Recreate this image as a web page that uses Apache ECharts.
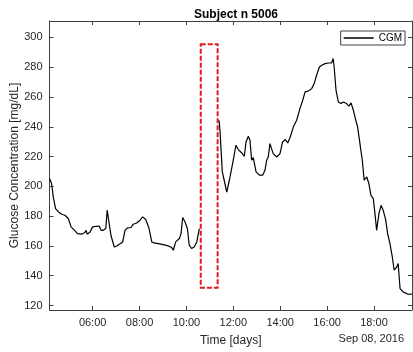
<!DOCTYPE html>
<html>
<head>
<meta charset="utf-8">
<script src="https://cdn.jsdelivr.net/npm/echarts@6/dist/echarts.min.js"></script>
<style>
  html, body { margin: 0; padding: 0; background: #fff; }
  #chart { width: 413px; height: 352px; }
</style>
</head>
<body>
<div id="chart"></div>
<script>
// time of day in hours, CGM glucose in mg/dL (null = missing data)
const hours = [
  4.16, 4.25, 4.32, 4.42, 4.54, 4.68, 4.82, 4.96, 5.08, 5.25, 5.35, 5.53, 5.67, 5.72, 5.77, 5.89,
  6.00, 6.17, 6.28, 6.36, 6.45, 6.56, 6.62, 6.70, 6.78, 6.92, 7.03, 7.28, 7.38, 7.49, 7.64, 7.73,
  7.88, 8.02, 8.13, 8.26, 8.40, 8.52, 8.62, 8.80, 9.01, 9.23, 9.37, 9.44, 9.54, 9.70, 9.77, 9.84,
  9.94, 10.04, 10.12, 10.22, 10.33, 10.44, 10.55,
  10.95,
  11.39, 11.43, 11.53, 11.61, 11.72, 11.83, 11.97, 12.11, 12.21, 12.36, 12.47, 12.54, 12.64, 12.71,
  12.78, 12.85, 12.97, 13.11, 13.25, 13.35, 13.42, 13.49, 13.56, 13.64, 13.70, 13.85, 13.99, 14.10,
  14.22, 14.32, 14.42, 14.56, 14.70, 14.84, 14.96, 15.06, 15.20, 15.34, 15.45, 15.55, 15.67, 15.77,
  15.91, 16.05, 16.19, 16.26, 16.30, 16.38, 16.48, 16.59, 16.69, 16.83, 16.93, 17.02, 17.12, 17.22,
  17.30, 17.40, 17.50, 17.58, 17.69, 17.78, 17.87, 17.97, 18.04, 18.11, 18.21, 18.30, 18.39, 18.50,
  18.58, 18.68, 18.78, 18.86, 18.97, 19.03, 19.11, 19.25, 19.39, 19.53, 19.62
];
const glucose = [
  205.2, 201.9, 192.9, 185.1, 182.8, 181.3, 180.6, 178.4, 172.8, 170.1, 168.3, 167.9, 169.0, 170.5, 167.9, 169.4,
  172.8, 173.2, 173.4, 170.5, 170.5, 171.7, 184.0, 183.3, 167.2, 159.3, 160.0, 162.7, 170.5, 172.1, 172.4, 174.6,
  175.4, 177.3, 179.5, 177.9, 172.1, 162.7, 162.0, 161.6, 160.9, 160.0, 158.9, 157.1, 162.7, 165.0, 168.3, 179.1,
  176.1, 171.7, 160.5, 158.3, 159.3, 162.7, 171.7,
  null,
  244.4, 237.7, 209.7, 204.1, 196.2, 204.1, 215.3, 227.6, 224.7, 222.4, 220.2, 229.8, 233.6, 230.9,
  217.5, 219.3, 209.7, 207.5, 207.5, 210.8, 217.5, 219.7, 228.7, 229.1, 222.0, 219.7, 222.0, 229.8,
  231.4, 229.1, 232.8, 239.9, 244.4, 252.2, 257.8, 263.4, 264.0, 265.6, 269.0, 274.6, 280.1, 281.3,
  282.4, 282.8, 282.8, 285.8, 280.1, 264.5, 256.6, 255.6, 256.6, 255.6, 253.8, 256.0, 251.1, 244.4,
  239.9, 228.7, 217.5, 204.1, 206.3, 201.9, 194.0, 191.8, 181.7, 170.5, 181.7, 187.3, 184.0, 177.3,
  168.3, 161.6, 152.6, 143.7, 145.9, 148.2, 131.4, 129.1, 128.0, 127.4, 127.9
];
const xTicks = [6, 8, 10, 12, 14, 16, 18];
const yTicks = [120, 140, 160, 180, 200, 220, 240, 260, 280, 300];
// missing-data window highlighted by the dashed box
const gapBox = { x: [10.61, 11.33], y: [132, 295.4] };

const axisColor = '#404040';
const font = 'Liberation Sans, Arial, sans-serif';
const fmtHour = (v) => (v < 10 ? '0' : '') + v + ':00';

const chart = echarts.init(document.getElementById('chart'));

chart.setOption({
  animation: false,
  textStyle: { fontFamily: font },
  title: {
    text: 'Subject n 5006',
    left: 231, top: 4, textAlign: 'center',
    textStyle: { fontSize: 12, fontWeight: 'bold', color: '#000', fontFamily: font }
  },
  legend: {
    data: [{ name: 'CGM', icon: 'rect' }],
    right: 8, top: 31,
    itemWidth: 30, itemHeight: 1.5, itemGap: 4,
    padding: [2, 3, 2, 3],
    borderColor: axisColor, borderWidth: 1,
    textStyle: { fontSize: 10, color: '#000', padding: [0, 0, 0, 0] }
  },
  grid: { left: 49.5, right: 1, top: 21, bottom: 42, outerBoundsMode: 'none' },
  xAxis: [
    {
      type: 'value', min: 4.16, max: 19.62,
      name: 'Time [days]', nameLocation: 'middle', nameGap: 25,
      nameTextStyle: { fontSize: 12, color: '#262626' },
      axisLine: { lineStyle: { color: axisColor } },
      axisTick: { inside: true, length: 4, customValues: xTicks, lineStyle: { color: axisColor } },
      axisLabel: { customValues: xTicks, formatter: fmtHour, fontSize: 11, color: '#262626', margin: 7 },
      splitLine: { show: false }
    },
    {
      type: 'value', position: 'top', min: 4.16, max: 19.62,
      axisLine: { onZero: false, lineStyle: { color: axisColor } },
      axisTick: { inside: true, length: 4, customValues: xTicks, lineStyle: { color: axisColor } },
      axisLabel: { show: false },
      splitLine: { show: false }
    }
  ],
  yAxis: [
    {
      type: 'value', min: 117, max: 311,
      name: 'Glucose Concentration [mg/dL]', nameLocation: 'middle', nameGap: 29,
      nameMoveOverlap: false,
      nameTextStyle: { fontSize: 12, color: '#262626' },
      axisLine: { show: true, lineStyle: { color: axisColor } },
      axisTick: { show: true, inside: true, length: 4, customValues: yTicks, lineStyle: { color: axisColor } },
      axisLabel: { customValues: yTicks, fontSize: 11, color: '#262626', margin: 7 },
      splitLine: { show: false }
    },
    {
      type: 'value', position: 'right', min: 117, max: 311,
      axisLine: { show: true, onZero: false, lineStyle: { color: axisColor } },
      axisTick: { show: true, inside: true, length: 4, customValues: yTicks, lineStyle: { color: axisColor } },
      axisLabel: { show: false },
      splitLine: { show: false }
    }
  ],
  series: [
    {
      name: 'CGM',
      type: 'line',
      symbol: 'none',
      connectNulls: false,
      lineStyle: { color: '#000', width: 1.2 },
      itemStyle: { color: '#000' },
      data: hours.map((h, i) => [h, glucose[i] === null ? '-' : glucose[i]]),
      markArea: {
        silent: true,
        itemStyle: {
          color: 'rgba(0,0,0,0)',
          borderColor: '#e01b1b', borderWidth: 2, borderType: [5, 2]
        },
        data: [[
          { coord: [gapBox.x[0], gapBox.y[1]] },
          { coord: [gapBox.x[1], gapBox.y[0]] }
        ]]
      }
    }
  ],
  graphic: [
    {
      type: 'text', right: 9, top: 333,
      style: { text: 'Sep 08, 2016', fontSize: 11, fill: '#262626', fontFamily: font }
    }
  ]
});
</script>
</body>
</html>
